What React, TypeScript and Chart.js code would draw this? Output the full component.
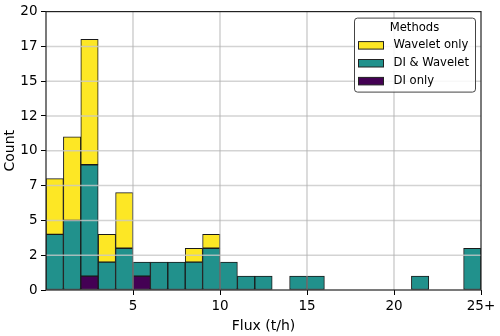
import React, { useEffect, useRef } from 'react';
import { Chart, registerables } from 'chart.js';

Chart.register(...registerables);

// Histogram bins (left edge of each 1 t/h bin; the last bin is "25+")
const binStarts = [0, 1, 2, 3, 4, 5, 6, 7, 8, 9, 10, 11, 12, 13, 14, 15, 16, 17, 18, 19, 20, 21, 22, 23, 24];
const binWidth = 1;

// Counts per bin
const diOnly = [0, 0, 1, 0, 0, 1, 0, 0, 0, 0, 0, 0, 0, 0, 0, 0, 0, 0, 0, 0, 0, 0, 0, 0, 0];
const diAndWavelet = [4, 5, 8, 2, 3, 1, 2, 2, 2, 3, 2, 1, 1, 0, 1, 1, 0, 0, 0, 0, 0, 1, 0, 0, 3];
const waveletOnly = [4, 6, 9, 2, 4, 0, 0, 0, 1, 1, 0, 0, 0, 0, 0, 0, 0, 0, 0, 0, 0, 0, 0, 0, 0];

const seriesLabels = ['DI only', 'DI & Wavelet', 'Wavelet only'];
const seriesColors = ['#440154', '#21918c', '#fde725'];

const xTickValues = [5, 10, 15, 20, 25];
const xTickLabels = ['5', '10', '15', '20', '25+'];
const yMax = 20;
const yStep = 2.5;

const legendTitle = 'Methods';
const xTitle = 'Flux (t/h)';
const yTitle = 'Count';

const FONT = 'DejaVu Sans';

const overlayPlugin = {
  id: 'mplOverlay',
  afterDatasetsDraw(chart: any) {
    const { ctx, chartArea: a, scales } = chart;
    ctx.save();
    // horizontal grid (drawn over bars)
    ctx.strokeStyle = 'rgba(200,200,200,0.8)';
    ctx.lineWidth = 1.5;
    for (const t of scales.y.ticks) {
      if (t.value <= 0 || t.value >= yMax) continue;
      const y = scales.y.getPixelForValue(t.value);
      ctx.beginPath();
      ctx.moveTo(a.left, y);
      ctx.lineTo(a.right, y);
      ctx.stroke();
    }
    // vertical grid
    ctx.strokeStyle = 'rgba(176,176,176,0.9)';
    ctx.lineWidth = 1;
    for (const t of scales.x.ticks) {
      const x = scales.x.getPixelForValue(t.value);
      if (x >= a.right - 1) continue;
      ctx.beginPath();
      ctx.moveTo(x, a.top);
      ctx.lineTo(x, a.bottom);
      ctx.stroke();
    }
    // spines
    ctx.strokeStyle = '#222';
    ctx.lineWidth = 1.2;
    ctx.strokeRect(a.left, a.top, a.right - a.left, a.bottom - a.top);
    ctx.restore();
  },
  afterDraw(chart: any) {
    const { ctx, chartArea: a } = chart;
    const w = 121;
    const h = 74;
    const x0 = a.right - 6 - w;
    const y0 = a.top + 6;
    ctx.save();
    ctx.beginPath();
    ctx.roundRect(x0 + 0.5, y0 + 0.5, w, h, 3);
    ctx.fillStyle = 'rgba(255,255,255,0.85)';
    ctx.fill();
    ctx.strokeStyle = '#444';
    ctx.lineWidth = 1;
    ctx.stroke();

    ctx.font = `11.6px "${FONT}"`;
    ctx.fillStyle = '#000';
    ctx.textBaseline = 'middle';
    ctx.textAlign = 'center';
    ctx.fillText(legendTitle, x0 + w / 2, y0 + 10);

    const ds = chart.data.datasets.slice().reverse();
    ctx.textAlign = 'left';
    ds.forEach((d: any, i: number) => {
      const cy = y0 + 27.5 + i * 17.9;
      ctx.fillStyle = d.backgroundColor;
      ctx.fillRect(x0 + 4.5, cy - 3.5, 25, 7.5);
      ctx.strokeStyle = '#222';
      ctx.lineWidth = 1;
      ctx.strokeRect(x0 + 4.5, cy - 3.5, 25, 7.5);
      ctx.fillStyle = '#000';
      ctx.fillText(d.label, x0 + 39.5, cy);
    });
    ctx.restore();
  },
};

export default function App() {
  const ref = useRef<HTMLCanvasElement>(null);

  useEffect(() => {
    document.body.style.margin = '0';
    const canvas = ref.current;
    if (!canvas) return;
    const seriesValues = [diOnly, diAndWavelet, waveletOnly];
    const datasets = seriesValues.map((vals, k) => ({
      label: seriesLabels[k],
      data: binStarts.map((b, i) => ({ x: b + binWidth / 2, y: vals[i] === 0 ? null : vals[i] })),
      backgroundColor: seriesColors[k],
      borderColor: '#1a1a1a',
      borderWidth: 1,
      borderSkipped: false,
      barPercentage: 1,
      categoryPercentage: 1,
    }));

    const chart = new Chart(canvas, {
      type: 'bar',
      data: { datasets } as any,
      plugins: [overlayPlugin],
      options: {
        responsive: false,
        animation: false,
        events: [],
        layout: { padding: { left: 0, right: 19, top: 10, bottom: 0 } },
        plugins: { legend: { display: false }, tooltip: { enabled: false } },
        scales: {
          x: {
            type: 'linear',
            stacked: true,
            min: 0,
            max: 25,
            offset: false,
            afterBuildTicks: (s: any) => {
              s.ticks = xTickValues.map((v) => ({ value: v }));
            },
            afterFit: (s: any) => {
              s.height = 46;
            },
            border: { display: false },
            grid: { offset: false, drawOnChartArea: false, drawTicks: true, tickLength: 5, tickColor: '#000', tickWidth: 1 },
            ticks: {
              autoSkip: false,
              maxRotation: 0,
              padding: 3,
              color: '#000',
              font: { family: FONT, size: 13.5 },
              callback: (v: any) => {
                const i = xTickValues.indexOf(Number(v));
                return i >= 0 ? xTickLabels[i] : '';
              },
            },
            title: {
              display: true,
              text: xTitle,
              color: '#000',
              font: { family: FONT, size: 14 },
              padding: { top: 0, bottom: 1.5 },
            },
          },
          y: {
            type: 'linear',
            stacked: true,
            min: 0,
            max: yMax,
            afterFit: (s: any) => {
              s.width = 46;
            },
            border: { display: false },
            grid: { offset: false, drawOnChartArea: false, drawTicks: true, tickLength: 5, tickColor: '#000', tickWidth: 1 },
            ticks: {
              stepSize: yStep,
              autoSkip: false,
              padding: 3.5,
              color: '#000',
              font: { family: FONT, size: 13.5 },
              callback: (v: any) => String(Math.floor(Number(v))),
            },
            title: {
              display: true,
              text: yTitle,
              color: '#000',
              font: { family: FONT, size: 14 },
              padding: { top: 2.4, bottom: 0 },
            },
          },
        },
      } as any,
    });
    return () => chart.destroy();
  }, []);

  return (
    <div style={{ position: 'absolute', left: 0, top: 0, width: 500, height: 336 }}>
      <canvas ref={ref} width={500} height={336} style={{ display: 'block', width: 500, height: 336 }} />
    </div>
  );
}
